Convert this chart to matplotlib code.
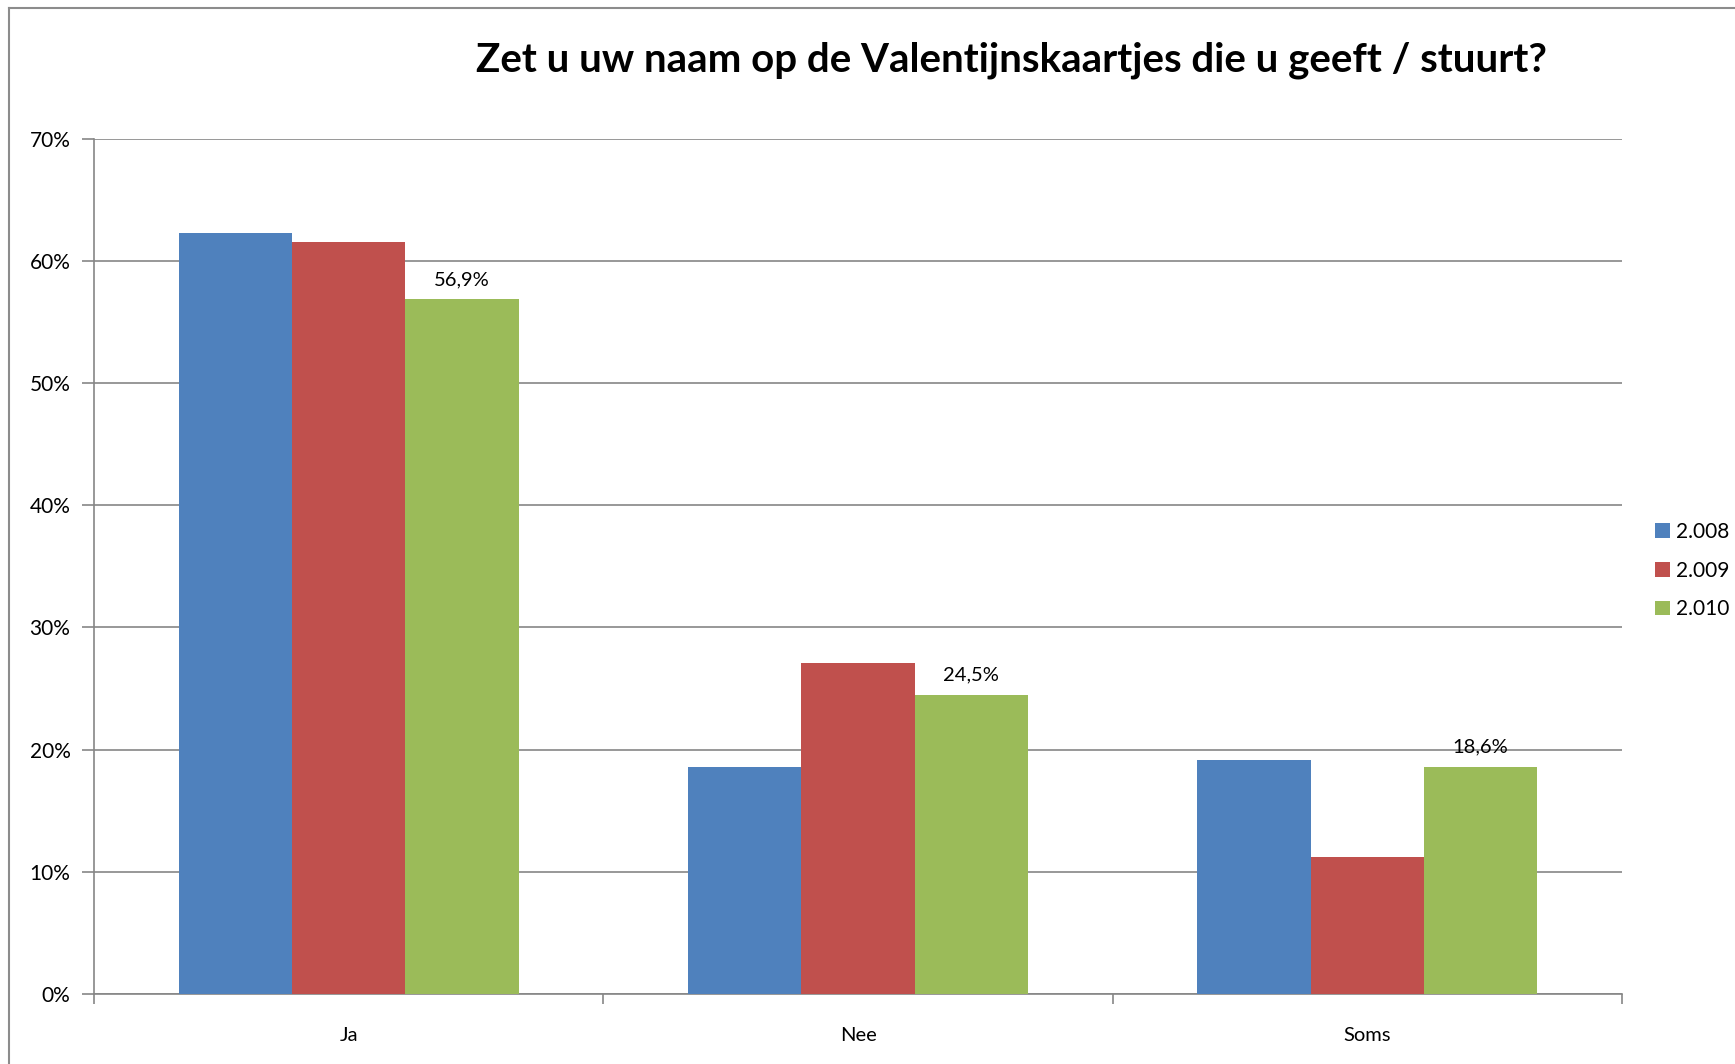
import matplotlib.pyplot as plt
import numpy as np
from matplotlib.lines import Line2D

plt.rcParams['font.family'] = ['Lato', 'DejaVu Sans']

categories = ['Ja', 'Nee', 'Soms']
series_names = ['2.008', '2.009', '2.010']
values_2008 = [62.3, 18.6, 19.1]
values_2009 = [61.6, 27.1, 11.2]
values_2010 = [56.9, 24.5, 18.6]
labels_2010 = ['56,9%', '24,5%', '18,6%']
colors = ['#4f81bd', '#c0504d', '#9bbb59']

fig = plt.figure(figsize=(17.35, 10.64), dpi=100)
ax = fig.add_axes([0.0542, 0.0662, 0.8807, 0.8028])

x = np.arange(len(categories))
w = 0.2225
series = [values_2008, values_2009, values_2010]
for i, (vals, name, col) in enumerate(zip(series, series_names, colors)):
    bars = ax.bar(x + (i - 1) * w, vals, width=w, color=col, label=name, zorder=3)
    if i == 2:
        for b, lab in zip(bars, labels_2010):
            ax.text(b.get_x() + b.get_width() / 2, b.get_height() + 0.9, lab,
                    ha='center', va='bottom', fontsize=14.5, zorder=4)

ax.set_xlim(-0.5, 2.5)
ax.set_ylim(0, 70)
ax.set_yticks(np.arange(0, 71, 10))
ax.set_yticklabels([f'{v}%' for v in range(0, 71, 10)], fontsize=15)
ax.yaxis.grid(True, color='#868686', linewidth=1.2, zorder=0)

# category labels between boundary ticks
ax.set_xticks([-0.5, 0.5, 1.5, 2.5])
ax.set_xticklabels([])
ax.set_xticks(x, minor=True)
ax.set_xticklabels(categories, minor=True, fontsize=14.5)
ax.tick_params(axis='x', which='minor', length=0, pad=24)
ax.tick_params(axis='x', which='major', length=7, color='#868686', width=1.2)
ax.tick_params(axis='y', length=9, color='#868686', width=1.2, pad=8)

for side in ['top', 'right']:
    ax.spines[side].set_visible(False)
for side in ['left', 'bottom']:
    ax.spines[side].set_color('#868686')
    ax.spines[side].set_linewidth(1.2)

fig.text(0.583, 0.943, 'Zet u uw naam op de Valentijnskaartjes die u geeft / stuurt?',
         ha='center', va='center', fontsize=29, fontweight='bold')

ax.legend(loc='center left', bbox_to_anchor=(1.0, 0.495), frameon=False,
          fontsize=15, handlelength=0.7, handleheight=0.7, handletextpad=0.3,
          labelspacing=0.9, borderaxespad=1.2)

# outer chart frame
fig.add_artist(Line2D([0.0052, 0.0052], [0, 0.9925], transform=fig.transFigure,
                      color='#8c8c8c', linewidth=1.5))
fig.add_artist(Line2D([0.0052, 1.0], [0.9925, 0.9925], transform=fig.transFigure,
                      color='#8c8c8c', linewidth=1.5))

fig.savefig('out.png', dpi=100)
